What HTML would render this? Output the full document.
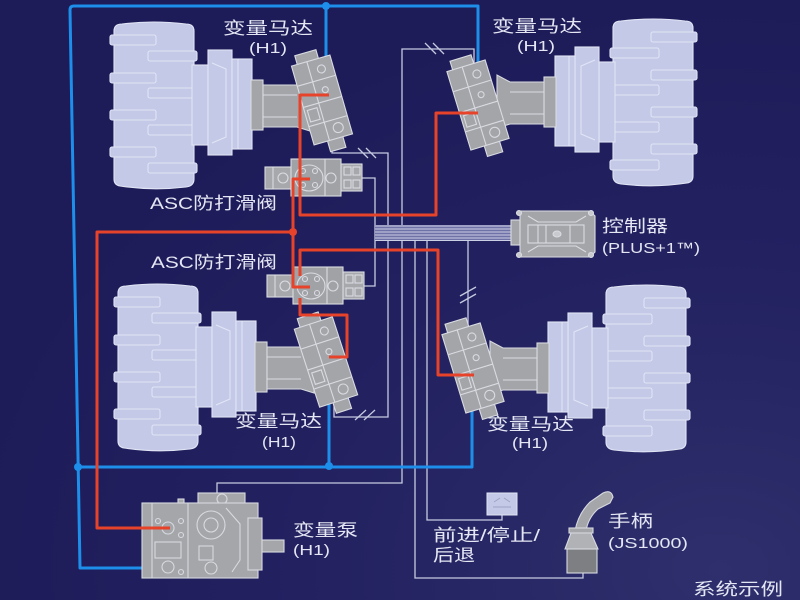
<!DOCTYPE html>
<html><head><meta charset="utf-8">
<style>
html,body{margin:0;padding:0;background:#211f5f;}
svg{display:block;}
text{font-family:"Liberation Sans","Noto Sans CJK SC",sans-serif;fill:#e4e6f3;}
</style></head>
<body>
<svg width="800" height="600" viewBox="0 0 800 600" xmlns="http://www.w3.org/2000/svg">
<defs>
<radialGradient id="bg" cx="0.9" cy="0.95" r="0.95">
<stop offset="0" stop-color="#2e2f6c"/>
<stop offset="0.55" stop-color="#232160"/>
<stop offset="1" stop-color="#1d1b58"/>
</radialGradient>
<g id="wheel" stroke="#e2e5f5" stroke-width="1.1">
<path d="M2,8 Q2,1 10,1 Q41,-3 74,1 Q82,1 82,8 L82,156 Q82,163 74,164 Q41,168 8,163 Q2,162 2,156 Z" fill="#c4c9e7"/>
<rect x="-2" y="12" width="46" height="10" rx="2" fill="#c4c9e7"/>
<rect x="-2" y="50" width="46" height="10" rx="2" fill="#c4c9e7"/>
<rect x="-2" y="87" width="46" height="10" rx="2" fill="#c4c9e7"/>
<rect x="-2" y="124" width="46" height="10" rx="2" fill="#c4c9e7"/>
<rect x="36" y="28" width="49" height="10" rx="2" fill="#c4c9e7"/>
<rect x="36" y="65" width="49" height="10" rx="2" fill="#c4c9e7"/>
<rect x="36" y="102" width="49" height="10" rx="2" fill="#c4c9e7"/>
<rect x="36" y="140" width="49" height="10" rx="2" fill="#c4c9e7"/>
<rect x="80" y="42" width="16" height="80" fill="#c4c9e7"/>
<rect x="96" y="27" width="24" height="105" fill="#c4c9e7"/>
<path d="M100,40 L114,46 L114,114 L100,120" fill="none"/>
<rect x="120" y="36" width="20" height="90" fill="#c4c9e7"/>
<line x1="126" y1="36" x2="126" y2="126"/>
<rect x="139" y="57" width="12" height="50" fill="#a3a5a9" stroke="#d9dbe1"/>
<path d="M151,62 L185,62 L198,55 L198,108 L185,104 L151,104 Z" fill="#a3a5a9" stroke="#d9dbe1"/>
<line x1="151" y1="72" x2="185" y2="72" stroke="#d9dbe1"/>
<line x1="151" y1="94" x2="185" y2="94" stroke="#d9dbe1"/>
</g>
<g id="block" stroke="#d9dbe1" stroke-width="1.1">
<rect x="-14" y="-50" width="22" height="11" fill="#a3a5a9"/>
<rect x="-6" y="40" width="16" height="12" fill="#a3a5a9"/>
<rect x="-20" y="-41" width="40" height="82" fill="#a3a5a9"/>
<line x1="-20" y1="-20" x2="20" y2="-20"/>
<line x1="-20" y1="2" x2="20" y2="2"/>
<line x1="-20" y1="22" x2="20" y2="22"/>
<line x1="-4" y1="-41" x2="-4" y2="41"/>
<circle cx="8" cy="-30" r="4" fill="none"/>
<circle cx="6" cy="-9" r="3" fill="none"/>
<circle cx="8" cy="31" r="5" fill="none"/>
<rect x="-17" y="6" width="10" height="12" fill="none"/>
</g>
<g id="valve" stroke="#dadce2" stroke-width="1.1">
<rect x="0" y="5" width="27" height="22" fill="#a6a8ac"/>
<line x1="8" y1="5" x2="8" y2="27"/>
<circle cx="18" cy="16" r="5" fill="none"/>
<rect x="76" y="2" width="21" height="27" fill="#a6a8ac"/>
<rect x="79" y="5" width="7" height="8" fill="none"/>
<rect x="88" y="5" width="7" height="8" fill="none"/>
<rect x="79" y="18" width="7" height="8" fill="none"/>
<rect x="88" y="18" width="7" height="8" fill="none"/>
<rect x="26" y="-3" width="50" height="37" fill="#a0a2a6"/>
<ellipse cx="44" cy="16" rx="14" ry="13" fill="none"/>
<circle cx="38" cy="9" r="2.5" fill="none"/>
<circle cx="50" cy="9" r="2.5" fill="none"/>
<circle cx="38" cy="23" r="2.5" fill="none"/>
<circle cx="50" cy="23" r="2.5" fill="none"/>
<circle cx="66" cy="16" r="5" fill="none"/>
<line x1="60" y1="-3" x2="60" y2="34"/>
</g>
</defs>

<rect x="0" y="0" width="800" height="600" fill="url(#bg)"/>

<!-- wheels -->
<use href="#wheel" transform="translate(112,23)"/>
<use href="#wheel" transform="translate(116,285)"/>
<use href="#wheel" transform="translate(695,20) scale(-1,1)"/>
<use href="#wheel" transform="translate(688,286) scale(-1,1)"/>

<!-- thin signal lines -->
<g fill="none" stroke="#c6cae0" stroke-width="1.3">
<path d="M332,138 V153 H388 V417 H334 V400"/>
<path d="M360,178 H375 V286 H360"/>
<path d="M474,66 V49 H402 V483 H217 V497"/>
<path d="M415,236 V578 H583 V571"/>
<path d="M427,236 V520 H502 V515"/>
<path d="M468,240 V332"/>
<path d="M358,148 L368,158 M366,148 L376,158"/>
<path d="M425,43 L436,54 M433,43 L444,54"/>
<path d="M355,420 L366,410 M364,420 L375,410"/>
<path d="M460,296 L476,287 M460,303 L476,294"/>
</g>
<!-- bundle -->
<rect x="375" y="225" width="140" height="15" fill="#6e72a6"/>
<g stroke="#cdd0e4" stroke-width="1">
<line x1="375" y1="226" x2="515" y2="226"/>
<line x1="375" y1="229" x2="515" y2="229"/>
<line x1="375" y1="232" x2="515" y2="232"/>
<line x1="375" y1="235" x2="515" y2="235"/>
<line x1="375" y1="238" x2="515" y2="238"/>
<line x1="375" y1="240.5" x2="515" y2="240.5"/>
</g>

<!-- blue lines -->
<g fill="none" stroke="#1d8ee9" stroke-width="3" stroke-linejoin="round">
<path d="M170,568 H80 L70,10 Q70,6 74,6 H478 V74"/>
<path d="M326,6 V76"/>
<path d="M78,467 H472 V398 L466,388"/>
<path d="M329,466 V388"/>
</g>
<g fill="#1d8ee9">
<circle cx="326" cy="6" r="4"/>
<circle cx="78" cy="467" r="4"/>
<circle cx="329" cy="466" r="4"/>
</g>

<!-- motor blocks -->
<use href="#block" transform="translate(322,100) rotate(-16)"/>
<use href="#block" transform="translate(326,362) rotate(-18)"/>
<use href="#block" transform="translate(478,105) rotate(-17)"/>
<use href="#block" transform="translate(473,368) rotate(-17)"/>

<!-- valves -->
<use href="#valve" transform="translate(265,162)"/>
<use href="#valve" transform="translate(267,270)"/>

<!-- controller -->
<g stroke="#dadce2" stroke-width="1.1">
<rect x="511" y="220" width="9" height="25" fill="#a3a5a9"/>
<path d="M520,211 L590,211 L595,216 L595,252 L590,257 L520,257 Z" fill="#a3a5a9"/>
<path d="M528,216 L538,222 L576,222 L586,216" fill="none"/>
<path d="M528,252 L538,246 L576,246 L586,252" fill="none"/>
<rect x="528" y="225" width="56" height="18" fill="none"/>
<line x1="538" y1="225" x2="538" y2="243"/>
<line x1="546" y1="225" x2="546" y2="243"/>
<line x1="570" y1="225" x2="570" y2="243"/>
<ellipse cx="557" cy="234" rx="4" ry="3" fill="#c8cad0"/>
<circle cx="519" cy="213" r="2.5" fill="#c8cad0"/>
<circle cx="591" cy="213" r="2.5" fill="#c8cad0"/>
<circle cx="519" cy="255" r="2.5" fill="#c8cad0"/>
<circle cx="591" cy="255" r="2.5" fill="#c8cad0"/>
</g>

<!-- switch box -->
<rect x="487" y="493" width="30" height="22" fill="#c4c9e7" stroke="#e2e5f5"/>
<path d="M494,502 L500,498 M510,502 L504,498 M493,507 H511" stroke="#9fa3c4" fill="none"/>

<!-- pump -->
<g stroke="#d8dae0" stroke-width="1.1">
<rect x="198" y="493" width="47" height="14" fill="#a4a6aa"/>
<circle cx="222" cy="499" r="5" fill="none"/>
<rect x="178" y="499" width="6" height="6" fill="#a4a6aa"/>
<rect x="142" y="503" width="116" height="75" fill="#a4a6aa"/>
<rect x="248" y="518" width="14" height="52" fill="#a4a6aa"/>
<rect x="262" y="540" width="22" height="12" fill="#a4a6aa"/>
<line x1="152" y1="503" x2="152" y2="578"/>
<line x1="188" y1="503" x2="188" y2="578"/>
<rect x="155" y="542" width="26" height="16" fill="none"/>
<circle cx="168" cy="528" r="6" fill="none"/>
<circle cx="168" cy="567" r="6" fill="none"/>
<circle cx="158" cy="521" r="2.5" fill="none"/>
<circle cx="181" cy="521" r="2.5" fill="none"/>
<circle cx="181" cy="535" r="2.5" fill="none"/>
<circle cx="181" cy="572" r="2.5" fill="none"/>
<circle cx="211" cy="525" r="14" fill="none"/>
<circle cx="211" cy="525" r="7" fill="none"/>
<rect x="199" y="546" width="14" height="14" fill="none"/>
<circle cx="211" cy="568" r="6" fill="none"/>
<path d="M226,508 L240,524 L240,560 L232,572" fill="none"/>
</g>

<!-- joystick -->
<g stroke="#d8dae0" stroke-width="1.1">
<path d="M575,531 Q578,514 590,502 L603,493 Q611,489 613,497 L610,503 L598,509 Q588,518 586,531 Z" fill="#a4a6aa"/>
<rect x="569" y="528" width="24" height="5" fill="#a4a6aa"/>
<path d="M571,533 L591,533 L598,549 L565,549 Z" fill="#b0b2b6"/>
<rect x="567" y="549" width="30" height="24" fill="#7d7f83"/>
</g>

<!-- red lines -->
<g fill="none" stroke="#e6432a" stroke-width="3" stroke-linejoin="round">
<path d="M329,95 H300 V215 H436 V113 H478"/>
<path d="M310,179 H293 V287 H310"/>
<path d="M170,528 H97 V232 H293"/>
<path d="M300,276 V250 H438 V375 H474"/>
<path d="M300,298 V315 H347 V357 H329"/>
</g>
<circle cx="293" cy="232" r="4" fill="#e6432a"/>

<!-- labels -->
<text x="223" y="34" font-size="17" textLength="90" lengthAdjust="spacingAndGlyphs">变量马达</text>
<text x="249" y="53" font-size="15" textLength="38" lengthAdjust="spacingAndGlyphs">(H1)</text>
<text x="492" y="32" font-size="17" textLength="90" lengthAdjust="spacingAndGlyphs">变量马达</text>
<text x="517" y="51" font-size="15" textLength="38" lengthAdjust="spacingAndGlyphs">(H1)</text>
<text x="150" y="209" font-size="17" textLength="127" lengthAdjust="spacingAndGlyphs">ASC防打滑阀</text>
<text x="151" y="268" font-size="17" textLength="126" lengthAdjust="spacingAndGlyphs">ASC防打滑阀</text>
<text x="602" y="232" font-size="17" textLength="66" lengthAdjust="spacingAndGlyphs">控制器</text>
<text x="602" y="253" font-size="15" textLength="98" lengthAdjust="spacingAndGlyphs">(PLUS+1™)</text>
<text x="235" y="427" font-size="17" textLength="87" lengthAdjust="spacingAndGlyphs">变量马达</text>
<text x="262" y="447" font-size="15" textLength="34" lengthAdjust="spacingAndGlyphs">(H1)</text>
<text x="487" y="430" font-size="17" textLength="87" lengthAdjust="spacingAndGlyphs">变量马达</text>
<text x="512" y="448" font-size="15" textLength="36" lengthAdjust="spacingAndGlyphs">(H1)</text>
<text x="293" y="536" font-size="17" textLength="65" lengthAdjust="spacingAndGlyphs">变量泵</text>
<text x="293" y="555" font-size="15" textLength="37" lengthAdjust="spacingAndGlyphs">(H1)</text>
<text x="433" y="541" font-size="17" textLength="107" lengthAdjust="spacingAndGlyphs">前进/停止/</text>
<text x="433" y="561" font-size="17" textLength="42" lengthAdjust="spacingAndGlyphs">后退</text>
<text x="608" y="527" font-size="17" textLength="45" lengthAdjust="spacingAndGlyphs">手柄</text>
<text x="608" y="548" font-size="15" textLength="80" lengthAdjust="spacingAndGlyphs">(JS1000)</text>
<text x="693" y="595" font-size="17" textLength="90" lengthAdjust="spacingAndGlyphs">系统示例</text>
</svg>
</body></html>
